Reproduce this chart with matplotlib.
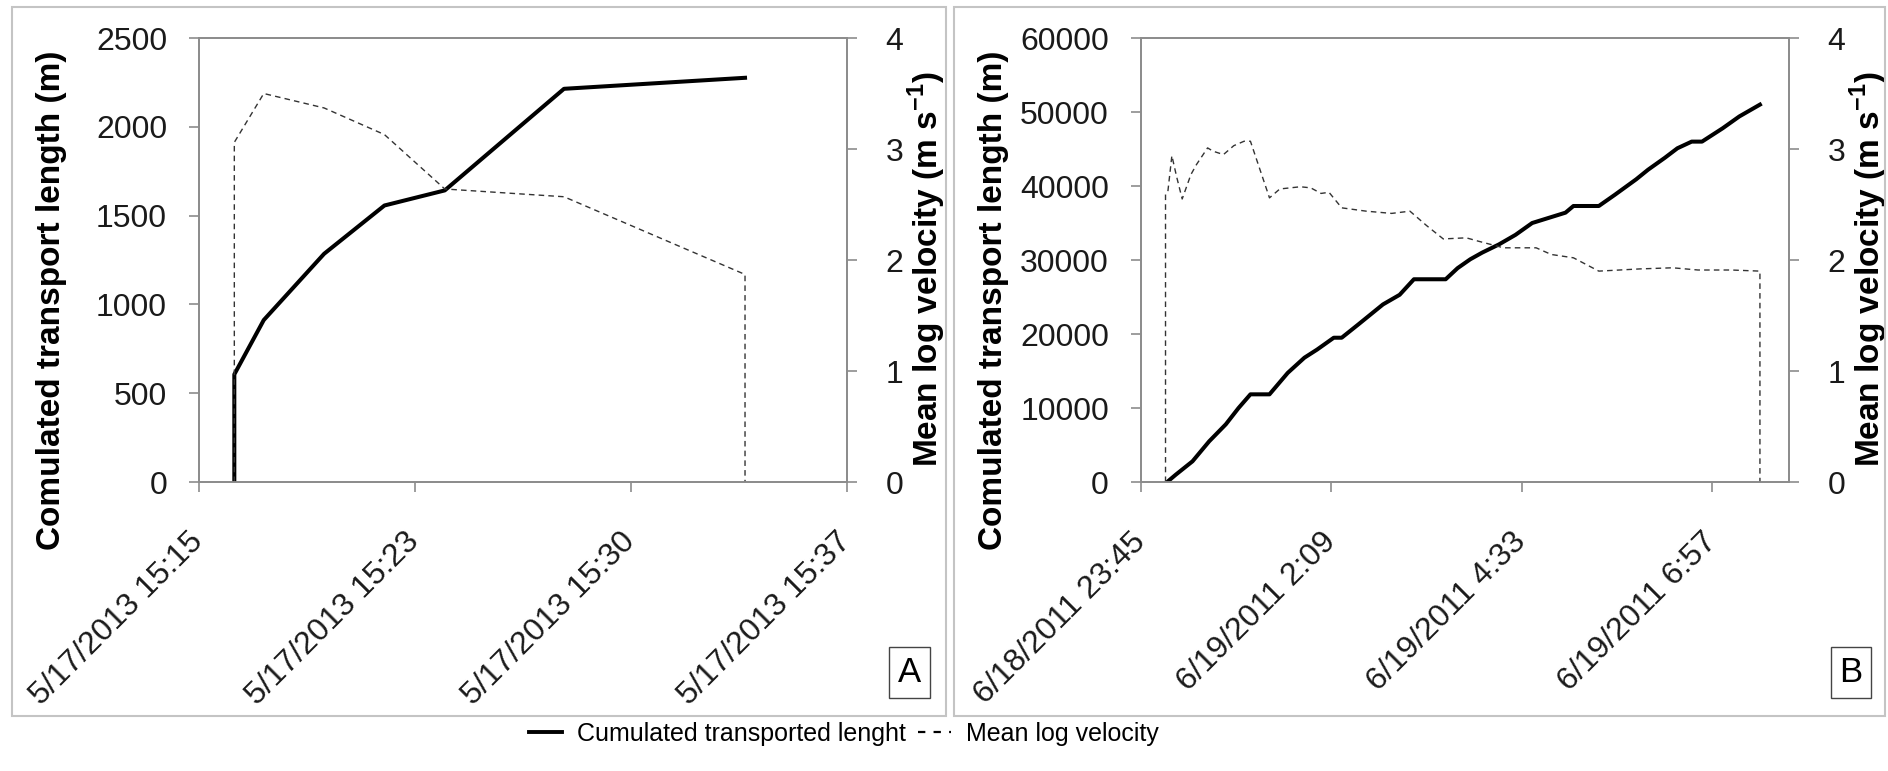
import matplotlib.pyplot as plt
from matplotlib.lines import Line2D
from matplotlib.patches import Rectangle

plt.rcParams['font.family'] = ['Liberation Sans', 'DejaVu Sans']
plt.rcParams['mathtext.fontset'] = 'custom'
plt.rcParams['mathtext.rm'] = 'Liberation Sans'
plt.rcParams['mathtext.bf'] = 'Liberation Sans:bold'

# panel A: minutes after 5/17/2013 15:15
a_len_t = [1.2, 1.2, 2.2, 4.25, 6.3, 8.35, 12.4, 18.55]
a_len = [0, 606, 912, 1285, 1557, 1642, 2214, 2276]
a_vel_t = [1.2, 1.2, 2.2, 4.25, 6.3, 8.35, 12.4, 18.55, 18.55]
a_vel = [0, 3.06, 3.50, 3.37, 3.13, 2.64, 2.57, 1.87, 0]
a_ticklabels = ['5/17/2013 15:15', '5/17/2013 15:23', '5/17/2013 15:30', '5/17/2013 15:37']

# panel B: hours after 6/18/2011 23:45
b_len_t = [0.33, 0.44, 0.65, 0.86, 1.07, 1.23, 1.38, 1.62, 1.85, 2.06, 2.22, 2.43,
           2.53, 2.74, 3.05, 3.26, 3.44, 3.84, 3.99, 4.15, 4.30, 4.51, 4.72, 4.93,
           5.14, 5.35, 5.45, 5.77, 5.97, 6.24, 6.39, 6.60, 6.76, 6.94, 7.07, 7.33,
           7.54, 7.80]
b_len = [0, 1000, 2800, 5500, 7800, 10000, 11850, 11850, 14750, 16800, 17900, 19500,
         19500, 21300, 24000, 25300, 27400, 27400, 28900, 30100, 31000, 32100, 33400, 35000,
         35700, 36400, 37300, 37300, 38800, 40900, 42200, 43800, 45100, 46000, 46000, 47800,
         49400, 51000]
b_vel_t = [0.31, 0.31, 0.34, 0.39, 0.45, 0.52, 0.63, 0.70, 0.84, 0.91, 1.04, 1.17,
           1.30, 1.38, 1.62, 1.75, 2.01, 2.14, 2.27, 2.37, 2.53, 2.84, 3.16, 3.39,
           3.60, 3.81, 4.10, 4.25, 4.57, 4.98, 5.17, 5.45, 5.77, 6.29, 6.70, 7.02,
           7.44, 7.80, 7.80]
b_vel = [0, 2.59, 2.62, 2.94, 2.75, 2.55, 2.77, 2.86, 3.01, 2.98, 2.95, 3.03,
         3.07, 3.07, 2.56, 2.64, 2.66, 2.65, 2.60, 2.61, 2.47, 2.44, 2.42, 2.44,
         2.31, 2.19, 2.20, 2.17, 2.11, 2.11, 2.05, 2.02, 1.90, 1.92, 1.93, 1.91,
         1.91, 1.90, 0]
b_ticklabels = ['6/18/2011 23:45', '6/19/2011 2:09', '6/19/2011 4:33', '6/19/2011 6:57']

spine_c = '#8c8c8c'

fig = plt.figure(figsize=(18.88, 7.71), dpi=100)


def panel(left, t_len, v_len, t_vel, v_vel, xmax, xticks, xlabels, ymax, yticks, letter, letter_x):
    ax = fig.add_axes([left, 0.3748, 0.3430, 0.5759])
    ax2 = ax.twinx()
    ax.plot(t_len, v_len, color='black', lw=2.9, zorder=3)
    ax2.plot(t_vel, v_vel, color='#333333', lw=1.0, dashes=(4, 3))
    ax.set_xlim(0, xmax)
    ax.set_ylim(0, ymax)
    ax2.set_ylim(0, 4)
    ax.set_xticks(xticks)
    ax.set_xticklabels(xlabels, rotation=45, ha='right', va='center', rotation_mode='anchor')
    ax.set_yticks(yticks)
    ax2.set_yticks([0, 1, 2, 3, 4])
    for a in (ax, ax2):
        for s in a.spines.values():
            s.set_color(spine_c)
            s.set_linewidth(1.3)
        a.tick_params(colors=spine_c, labelcolor='#1a1a1a', length=7, width=1.2)
    ax.tick_params(axis='y', labelsize=23, pad=16)
    ax.tick_params(axis='x', labelsize=23, pad=33)
    ax2.tick_params(axis='y', labelsize=23, pad=21)
    ax.set_ylabel('Comulated transport length (m)', fontsize=24, fontweight='bold')
    ax2.set_ylabel(r'Mean log velocity (m s$^{\mathbf{-1}}$)', fontsize=24, fontweight='bold')
    ax.yaxis.set_label_coords(-0.204, 0.41)
    ax2.yaxis.set_label_coords(1.092, 0.48)
    fig.text(letter_x, 0.1278, letter, fontsize=25, ha='center', va='center',
             bbox=dict(boxstyle='square,pad=0.25', fc='white', ec='#444444', lw=1.0))
    return ax


panel(0.1054, a_len_t, a_len, a_vel_t, a_vel, 22, [0, 22 / 3, 44 / 3, 22], a_ticklabels,
      2500, [0, 500, 1000, 1500, 2000, 2500], 'A', 0.4817)
panel(0.6043, b_len_t, b_len, b_vel_t, b_vel, 8.16, [0, 2.4, 4.8, 7.2], b_ticklabels,
      60000, [0, 10000, 20000, 30000, 40000, 50000, 60000], 'B', 0.9804)

# panel frames
fig.add_artist(Rectangle((0.0064, 0.0713), 0.4947, 0.9196, transform=fig.transFigure,
                         fill=False, ec='#c4c4c4', lw=1.5))
fig.add_artist(Rectangle((0.5053, 0.0713), 0.4932, 0.9196, transform=fig.transFigure,
                         fill=False, ec='#c4c4c4', lw=1.5))

handles = [Line2D([], [], color='black', lw=2.8),
           Line2D([], [], color='black', lw=1.6, dashes=(3.3, 3.7))]
fig.legend(handles, ['Cumulated transported lenght', 'Mean log velocity'],
           loc='center', bbox_to_anchor=(0.447, 0.048), ncol=2, frameon=False,
           fontsize=18, handlelength=1.3, handletextpad=0.6, columnspacing=0.5)

fig.savefig('out.png', dpi=100)
